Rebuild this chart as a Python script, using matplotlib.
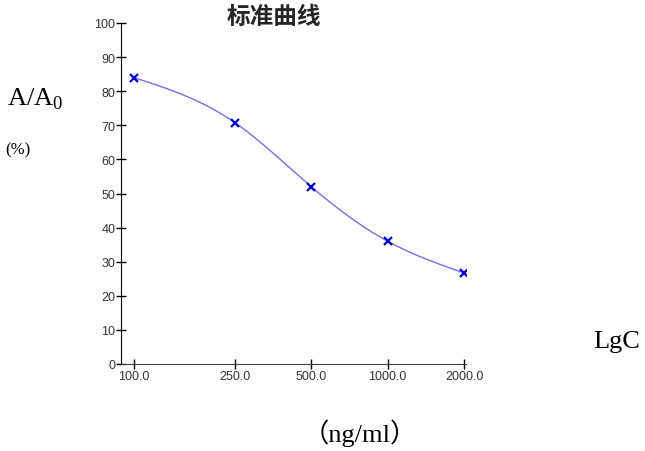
import numpy as np
import matplotlib
matplotlib.use("Agg")
import matplotlib.pyplot as plt

plt.rcParams["mathtext.fontset"] = "custom"
plt.rcParams["mathtext.rm"] = "Liberation Serif"

conc = [100.0, 250.0, 500.0, 1000.0, 2000.0]
ratio = [84.0, 70.8, 52.0, 36.0, 26.7]
x_tick_labels = ["100.0", "250.0", "500.0", "1000.0", "2000.0"]
y_ticks = [0, 10, 20, 30, 40, 50, 60, 70, 80, 90, 100]


def natural_spline(xk, yk, xs):
    xk = np.asarray(xk, float); yk = np.asarray(yk, float)
    n = len(xk)
    h = np.diff(xk)
    A = np.zeros((n, n)); b = np.zeros(n)
    A[0, 0] = 1; A[-1, -1] = 1
    for i in range(1, n - 1):
        A[i, i - 1] = h[i - 1]; A[i, i] = 2 * (h[i - 1] + h[i]); A[i, i + 1] = h[i]
        b[i] = 6 * ((yk[i + 1] - yk[i]) / h[i] - (yk[i] - yk[i - 1]) / h[i - 1])
    M = np.linalg.solve(A, b)
    out = np.empty_like(xs)
    for j, x in enumerate(xs):
        i = min(max(np.searchsorted(xk, x) - 1, 0), n - 2)
        t0 = xk[i + 1] - x; t1 = x - xk[i]
        out[j] = (M[i] * t0**3 + M[i + 1] * t1**3) / (6 * h[i]) + \
                 (yk[i] / h[i] - M[i] * h[i] / 6) * t0 + (yk[i + 1] / h[i] - M[i + 1] * h[i] / 6) * t1
    return out


lx = np.log10(conc)
xs = np.linspace(lx[0], lx[-1], 300)
ys = natural_spline(lx, ratio, xs)

fig = plt.figure(figsize=(6.45, 4.52), dpi=100)
ax = fig.add_axes([121 / 645, 1 - 365 / 452, (466 - 121) / 645, (365 - 24) / 452])
ax.plot(10 ** xs, ys, color="#6e6eff", lw=1.0)
ax.plot(conc, ratio, linestyle="none", marker="x", color="#0000ee", ms=5.5, mew=1.6)

ax.set_xscale("log")
ax.set_xlim(89, 2036)
ax.set_ylim(0, 100)
ax.set_xticks(conc)
ax.set_xticklabels(x_tick_labels)
ax.xaxis.set_minor_locator(matplotlib.ticker.NullLocator())
ax.set_yticks(y_ticks)
ax.set_yticklabels([str(v) for v in y_ticks])
for s in ["top", "right"]:
    ax.spines[s].set_visible(False)
ax.spines["left"].set_color("black")
ax.spines["bottom"].set_color("#444444")
ax.tick_params(axis="both", direction="inout", length=7, width=1, labelsize=9,
               labelcolor="#333333", pad=0.5)
for lab in ax.get_xticklabels() + ax.get_yticklabels():
    lab.set_family("Liberation Sans")

fig.text(274 / 645, 1 - 17 / 452, "标准曲线", family=["Noto Sans CJK SC"], fontsize=17,
         fontweight="bold", color="#252525", ha="center", va="center")

fig.text(7 / 645, 1 - 99 / 452, r"A/A$_\mathrm{0}$", family="Liberation Serif", fontsize=19,
         va="center", ha="left")
fig.text(5 / 645, 1 - 150 / 452, "(%)", family="Liberation Serif", fontsize=12,
         va="center", ha="left")
fig.text(593 / 645, 1 - 342 / 452, "LgC", family="Liberation Serif", fontsize=19,
         va="center", ha="left")
fig.text(360 / 645, 1 - 433 / 452, "（ng/ml）", family=["Liberation Serif", "Noto Sans CJK SC"],
         fontsize=19, va="center", ha="center")

fig.savefig("out.png", dpi=100)
